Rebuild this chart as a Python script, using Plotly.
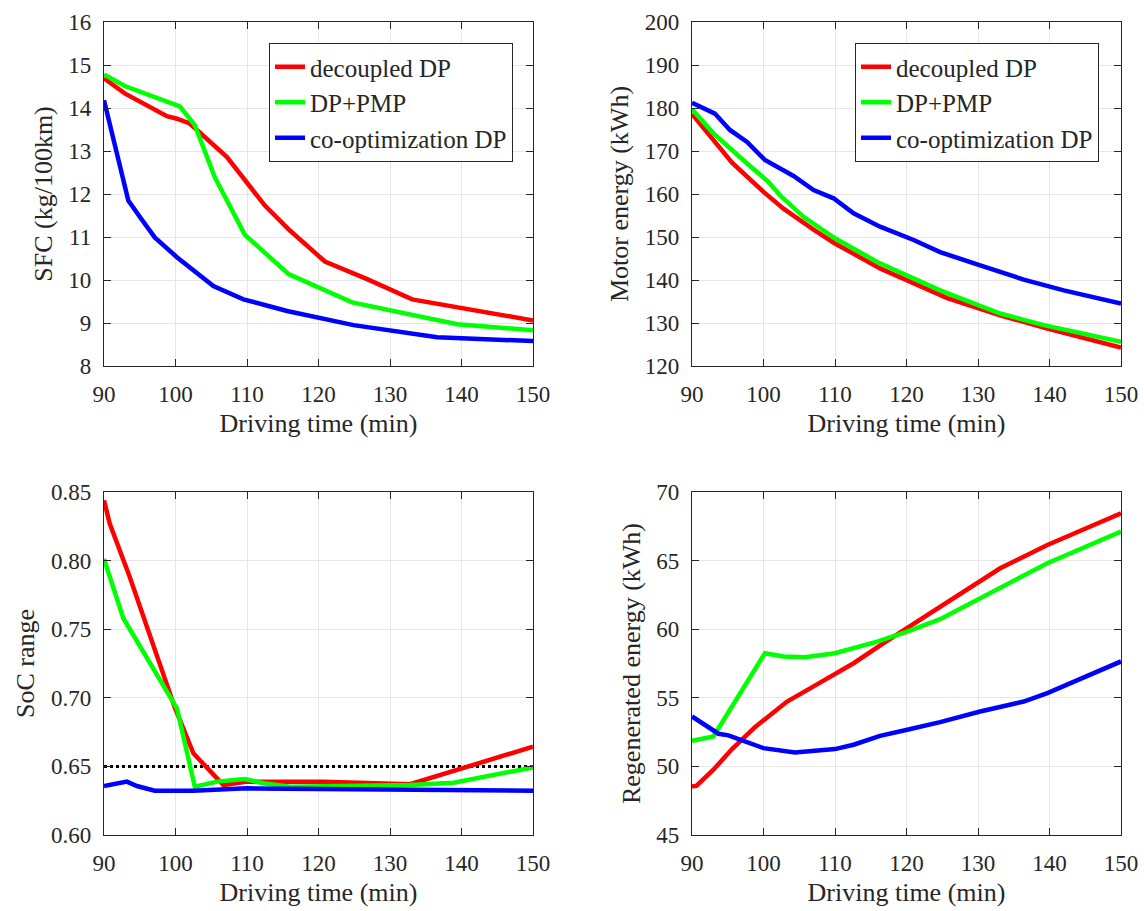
import plotly.graph_objects as go

# ---- data: specific fuel consumption (kg/100km) vs driving time (min) ----
sfc_dec_t = [90, 92.9, 98.8, 100.2, 102.0, 107.2, 112.5, 116.0, 120.9, 126.8, 133.1, 139.4, 150]
sfc_dec_v = [14.69, 14.34, 13.81, 13.75, 13.64, 12.86, 11.73, 11.15, 10.43, 10.02, 9.55, 9.37, 9.06]
sfc_pmp_t = [90, 92.9, 100.6, 102.7, 105.5, 109.7, 115.8, 124.7, 139.4, 150]
sfc_pmp_v = [14.78, 14.51, 14.04, 13.6, 12.39, 11.05, 10.14, 9.48, 8.97, 8.83]
sfc_co_t = [90, 93.4, 95.3, 97.1, 100.2, 102.3, 105.3, 109.5, 115.6, 124.9, 136.6, 150]
sfc_co_v = [14.18, 11.85, 11.4, 10.99, 10.53, 10.25, 9.86, 9.55, 9.28, 8.95, 8.67, 8.58]

# ---- data: motor energy (kWh) ----
me_dec_t = [90, 93, 95.6, 100, 102.8, 107, 110, 116.3, 121, 125.7, 133.1, 139.7, 150]
me_dec_v = [178.6, 172.5, 167.3, 160.5, 156.6, 151.7, 148.5, 142.7, 139.2, 135.8, 131.8, 128.7, 124.3]
me_pmp_t = [90, 93, 97.7, 100, 100.7, 102.3, 105.6, 110, 115.9, 124.7, 133.1, 139.2, 150]
me_pmp_v = [179.7, 174.1, 167.1, 163.6, 162.8, 159.7, 154.7, 149.7, 144.2, 137.6, 132.2, 129.5, 125.6]
me_co_t = [90, 93.2, 95.3, 97.7, 100.2, 104.2, 107, 109.8, 112.6, 116.3, 121, 124.7, 130.3, 136.4, 142, 150]
me_co_v = [181.2, 178.7, 174.9, 172.1, 167.9, 164.2, 160.9, 159.0, 155.5, 152.4, 149.3, 146.5, 143.4, 140.1, 137.6, 134.5]

# ---- data: SoC range ----
soc_dec_t = [90, 90.8, 93.6, 99.9, 102.5, 106.7, 110.0, 120.7, 132.8, 139.4, 150]
soc_dec_v = [0.844, 0.827, 0.788, 0.693, 0.6595, 0.6364, 0.6389, 0.6389, 0.637, 0.6474, 0.6644]
soc_pmp_t = [90, 92.7, 100.2, 102.7, 105.8, 109.7, 112.3, 116.0, 132.8, 138.9, 150]
soc_pmp_v = [0.8012, 0.758, 0.6923, 0.6352, 0.6389, 0.6408, 0.6377, 0.6352, 0.6364, 0.6381, 0.6493]
soc_co_t = [90, 93.2, 94.6, 97.1, 102.5, 110.0, 150]
soc_co_v = [0.6357, 0.6389, 0.6357, 0.6323, 0.6323, 0.634, 0.6323]
soc_limit = 0.65

# ---- data: regenerated energy (kWh) ----
re_dec_t = [90, 90.65, 93, 95.6, 98.8, 103.3, 107, 112.6, 116.8, 125.7, 133.1, 139.7, 150]
re_dec_v = [48.54, 48.59, 49.76, 51.26, 52.86, 54.73, 55.83, 57.52, 58.98, 62.01, 64.44, 66.14, 68.45]
re_pmp_t = [90, 93, 100.2, 102.8, 105.8, 110, 115.9, 120.1, 124.7, 132.7, 139.7, 150]
re_pmp_v = [51.87, 52.18, 58.25, 58.01, 57.96, 58.25, 59.1, 59.83, 60.73, 62.86, 64.81, 67.11]
re_co_t = [90, 93.7, 95.1, 100, 104.4, 110, 112.6, 116.3, 120.1, 124.7, 130.3, 136.4, 139.7, 150]
re_co_v = [53.64, 52.38, 52.26, 51.33, 51.02, 51.26, 51.58, 52.23, 52.67, 53.23, 54.0, 54.73, 55.34, 57.65]

names = ["decoupled DP", "DP+PMP", "co-optimization DP"]
colors = ["#ff0000", "#00ff00", "#0000ff"]

FONT = "Liberation Serif"
AXCOL = "#262626"
TICK_SIZE = 23
LABEL_SIZE = 26
LEGEND_SIZE = 25

fig = go.Figure()

panels = [
    ("x", "y", [(sfc_dec_t, sfc_dec_v), (sfc_pmp_t, sfc_pmp_v), (sfc_co_t, sfc_co_v)], "legend"),
    ("x2", "y2", [(me_dec_t, me_dec_v), (me_pmp_t, me_pmp_v), (me_co_t, me_co_v)], "legend2"),
    ("x3", "y3", [(soc_dec_t, soc_dec_v), (soc_pmp_t, soc_pmp_v), (soc_co_t, soc_co_v)], None),
    ("x4", "y4", [(re_dec_t, re_dec_v), (re_pmp_t, re_pmp_v), (re_co_t, re_co_v)], None),
]

for xa, ya, series, leg in panels:
    if xa == "x3":
        fig.add_trace(go.Scatter(
            x=[90, 150], y=[soc_limit, soc_limit], mode="lines",
            line=dict(color="black", width=3, dash="dot"),
            xaxis=xa, yaxis=ya, showlegend=False, hoverinfo="skip"))
    for (t, v), name, col in zip(series, names, colors):
        fig.add_trace(go.Scatter(
            x=t, y=v, mode="lines", name=name,
            line=dict(color=col, width=4.5),
            xaxis=xa, yaxis=ya,
            showlegend=leg is not None,
            legend=leg if leg else "legend"))

xdom_l = [104 / 1144, 533 / 1144]
xdom_r = [692 / 1144, 1121 / 1144]
ydom_t = [545 / 911, 889 / 911]
ydom_b = [76 / 911, 419 / 911]

common = dict(
    showline=True, linecolor=AXCOL, linewidth=1.3, mirror="ticks",
    ticks="inside", ticklen=7, tickcolor=AXCOL, tickwidth=1,
    showgrid=True, gridcolor="#e6e6e6", gridwidth=1, zeroline=False,
    automargin=False,
    tickfont=dict(family=FONT, size=TICK_SIZE, color=AXCOL),
)
xcommon = dict(common, range=[90, 150], tick0=90, dtick=10, ticklabelstandoff=7,
               title=dict(text="Driving time (min)",
                          font=dict(family=FONT, size=LABEL_SIZE, color=AXCOL), standoff=8))
ycommon = dict(common, ticklabelstandoff=7)

def ytitle(text):
    return dict(text=text, font=dict(family=FONT, size=LABEL_SIZE, color=AXCOL), standoff=8)

legend_style = dict(xanchor="right", yanchor="top", bgcolor="white",
                    bordercolor=AXCOL, borderwidth=1, tracegroupgap=0,
                    font=dict(family=FONT, size=LEGEND_SIZE, color=AXCOL))

fig.update_layout(
    width=1144, height=911,
    margin=dict(l=0, r=0, t=0, b=0),
    paper_bgcolor="white", plot_bgcolor="white",
    font=dict(family=FONT, color=AXCOL),
    xaxis=dict(xcommon, domain=xdom_l, anchor="y"),
    yaxis=dict(ycommon, domain=ydom_t, anchor="x", range=[8, 16], dtick=1,
               title=ytitle("SFC (kg/100km)")),
    xaxis2=dict(xcommon, domain=xdom_r, anchor="y2"),
    yaxis2=dict(ycommon, domain=ydom_t, anchor="x2", range=[120, 200], dtick=10,
                title=ytitle("Motor energy (kWh)")),
    xaxis3=dict(xcommon, domain=xdom_l, anchor="y3"),
    yaxis3=dict(ycommon, domain=ydom_b, anchor="x3", range=[0.60, 0.85], dtick=0.05,
                tickformat=".2f", title=ytitle("SoC range")),
    xaxis4=dict(xcommon, domain=xdom_r, anchor="y4"),
    yaxis4=dict(ycommon, domain=ydom_b, anchor="x4", range=[45, 70], dtick=5,
                title=ytitle("Regenerated energy (kWh)")),
    legend=dict(legend_style, x=513 / 1144, y=(911 - 43) / 911),
    legend2=dict(legend_style, x=1099 / 1144, y=(911 - 43) / 911),
    showlegend=True,
)

fig.write_html("out.html")
